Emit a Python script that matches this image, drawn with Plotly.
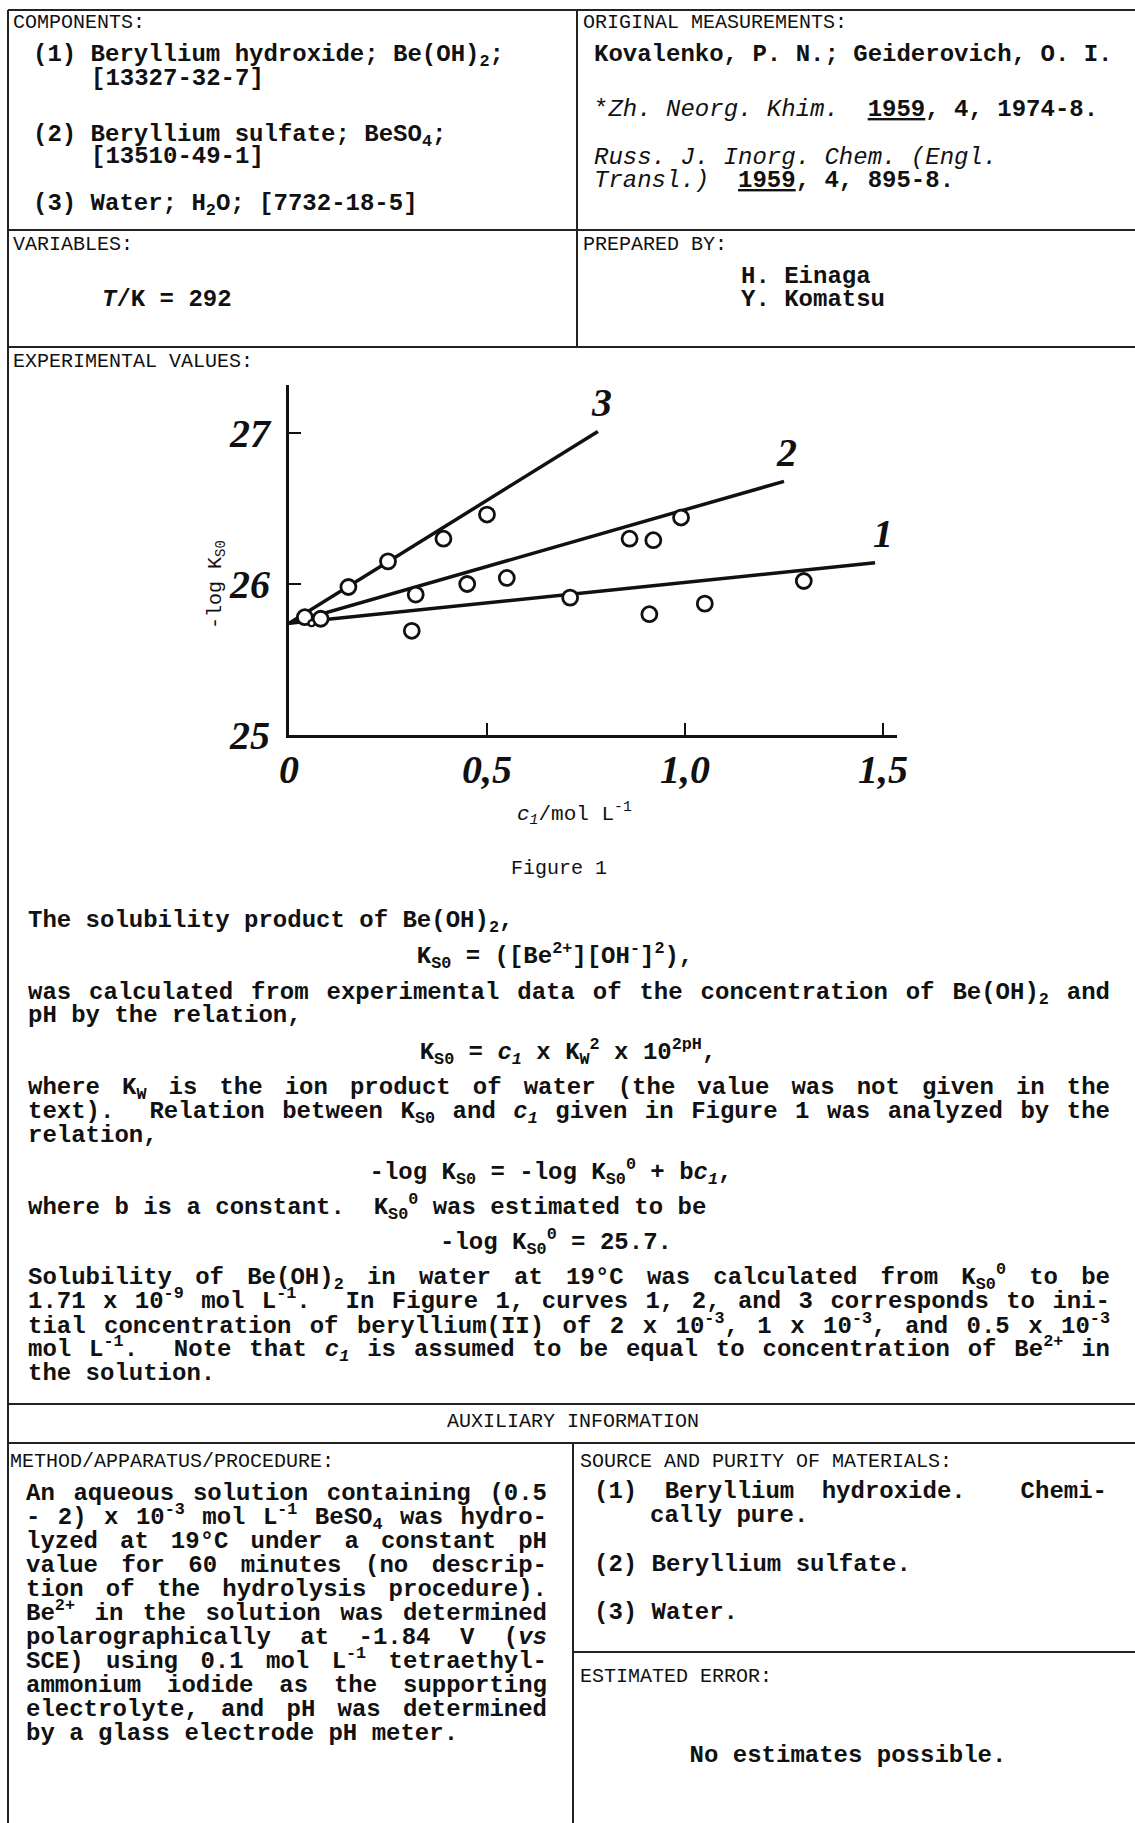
import re
import plotly.graph_objects as go

W, H = 1135, 1823
MONO = "Liberation Mono, Courier New, monospace"
SERIF = "Liberation Serif, Times New Roman, serif"
INK = "#111111"

# ---------------- Figure 1: -log Ks0 against c1 ----------------
# curve 1: initial Be(II) 2e-3 mol/L
c1_curve1 = [0.31, 0.71, 0.91, 1.05, 1.30]
logk_curve1 = [25.69, 25.91, 25.80, 25.87, 26.02]
# curve 2: initial Be(II) 1e-3 mol/L
c1_curve2 = [0.32, 0.45, 0.55, 0.86, 0.92, 0.99]
logk_curve2 = [25.93, 26.00, 26.04, 26.30, 26.29, 26.44]
# curve 3: initial Be(II) 0.5e-3 mol/L
c1_curve3 = [0.04, 0.08, 0.15, 0.25, 0.39, 0.50]
logk_curve3 = [25.78, 25.77, 25.98, 26.15, 26.30, 26.46]
# small point at the common origin of the lines
c1_small = [0.057]
logk_small = [25.74]

# fitted straight lines  -log Ks0 = -log Ks0(0) + b*c1
line1_c1 = [0.0, 1.48]
line1_logk = [25.74, 26.14]
line2_c1 = [0.0, 1.25]
line2_logk = [25.74, 26.68]
line3_c1 = [0.0, 0.78]
line3_logk = [25.74, 27.01]
curve_names = ["1", "2", "3"]

x_tick_vals = [0, 0.5, 1.0, 1.5]
x_tick_text = ["0", "0,5", "1,0", "1,5"]
y_tick_vals = [25, 26, 27]
y_tick_text = ["25", "26", "27"]

fig = go.Figure()

# fitted lines
for xs, ys in [(line1_c1, line1_logk), (line2_c1, line2_logk), (line3_c1, line3_logk)]:
    fig.add_trace(go.Scatter(x=xs, y=ys, mode="lines",
                             line=dict(color=INK, width=3.5),
                             hoverinfo="skip", showlegend=False))

# measured points (white-filled open circles)
for xs, ys in [(c1_curve1, logk_curve1), (c1_curve2, logk_curve2), (c1_curve3, logk_curve3)]:
    fig.add_trace(go.Scatter(x=xs, y=ys, mode="markers",
                             marker=dict(symbol="circle", size=15, color="white",
                                         line=dict(color=INK, width=2.8)),
                             hoverinfo="skip", showlegend=False))
fig.add_trace(go.Scatter(x=c1_small, y=logk_small, mode="markers",
                         marker=dict(symbol="circle", size=6, color="white",
                                     line=dict(color=INK, width=2.2)),
                         hoverinfo="skip", showlegend=False))

# curve numbers just above the end of each line
for name, xs, ys, dx in [("1", line1_c1, line1_logk, 8), ("2", line2_c1, line2_logk, 2),
                         ("3", line3_c1, line3_logk, 4)]:
    fig.add_annotation(x=xs[-1], y=ys[-1], xref="x", yref="y", text=name,
                       showarrow=False, xshift=dx, yshift=29,
                       font=dict(family=SERIF, size=40, color=INK, style="italic",
                                 weight="bold"))


# ---------------- page text (overlay axes in pixel units) ----------------
def units(s):
    """Visible width of an html snippet in monospace character cells."""
    w = 0.0
    depth = 0
    for tok in re.split(r"(<[^>]+>)", s):
        if not tok:
            continue
        if tok.startswith("<"):
            name = tok.strip("</>").split()[0].lower()
            if name in ("sub", "sup"):
                depth += -1 if tok.startswith("</") else 1
            continue
        w += len(tok) * (0.7 if depth else 1.0)
    return w


groups = {}


def put(x, y, text, style="body", pos="middle right"):
    groups.setdefault((style, pos), []).append((x, y, text))


def justify(line, x0, x1, y, size=24, style="body"):
    words = line.split(" ")
    widths = [units(w) * 0.6 * size for w in words]
    gap = (x1 - x0 - sum(widths)) / (len(words) - 1)
    x = x0
    for w, wd in zip(words, widths):
        if w:
            put(x, y, w, style)
        x += wd + gap


# section headings
put(13, 23, "COMPONENTS:", "head")
put(583, 23, "ORIGINAL MEASUREMENTS:", "head")
put(13, 245, "VARIABLES:", "head")
put(583, 245, "PREPARED BY:", "head")
put(13, 362, "EXPERIMENTAL VALUES:", "head")
put(573, 1422, "AUXILIARY INFORMATION", "head", "middle center")
put(10, 1462, "METHOD/APPARATUS/PROCEDURE:", "head")
put(580, 1462, "SOURCE AND PURITY OF MATERIALS:", "head")
put(580, 1677, "ESTIMATED ERROR:", "head")
put(559, 869, "Figure 1", "head", "middle center")

# components
put(33, 55, "(1) Beryllium hydroxide; Be(OH)<sub>2</sub>;")
put(91, 79, "[13327-32-7]")
put(33, 135, "(2) Beryllium sulfate; BeSO<sub>4</sub>;")
put(91, 157, "[13510-49-1]")
put(33, 204, "(3) Water; H<sub>2</sub>O; [7732-18-5]")

# original measurements
put(594, 55, "Kovalenko, P. N.; Geiderovich, O. I.")
put(594, 110, "*<i>Zh. Neorg. Khim.</i>  <b><u>1959</u>, 4, 1974-8.</b>", "plain")
put(594, 158, "<i>Russ. J. Inorg. Chem. (Engl.</i>", "plain")
put(594, 181, "<i>Transl.)</i>  <b><u>1959</u>, 4, 895-8.</b>", "plain")

# variables / prepared by
put(102, 300, "<i>T</i>/K = 292")
put(741, 277, "H. Einaga")
put(741, 300, "Y. Komatsu")

# experimental values text
XL, XR = 28, 1110
put(XL, 921, "The solubility product of Be(OH)<sub>2</sub>,")
put(555, 957, "K<sub>S0</sub> = ([Be<sup>2+</sup>][OH<sup>-</sup>]<sup>2</sup>),", "body", "middle center")
justify("was calculated from experimental data of the concentration of Be(OH)<sub>2</sub> and", XL, XR, 993)
put(XL, 1016, "pH by the relation,")
put(568, 1053, "K<sub>S0</sub> = <i>c<sub>1</sub></i> x K<sub>W</sub><sup>2</sup> x 10<sup>2pH</sup>,", "body", "middle center")
justify("where K<sub>W</sub> is the ion product of water (the value was not given in the", XL, XR, 1088)
justify("text).  Relation between K<sub>S0</sub> and <i>c<sub>1</sub></i> given in Figure 1 was analyzed by the", XL, XR, 1112)
put(XL, 1136, "relation,")
put(551, 1173, "-log K<sub>S0</sub> = -log K<sub>S0</sub><sup>0</sup> + b<i>c<sub>1</sub></i>,", "body", "middle center")
put(XL, 1208, "where b is a constant.  K<sub>S0</sub><sup>0</sup> was estimated to be")
put(556, 1243, "-log K<sub>S0</sub><sup>0</sup> = 25.7.", "body", "middle center")
justify("Solubility of Be(OH)<sub>2</sub> in water at 19°C was calculated from K<sub>S0</sub><sup>0</sup> to be", XL, XR, 1278)
justify("1.71 x 10<sup>-9</sup> mol L<sup>-1</sup>.  In Figure 1, curves 1, 2, and 3 corresponds to ini-", XL, XR, 1302)
justify("tial concentration of beryllium(II) of 2 x 10<sup>-3</sup>, 1 x 10<sup>-3</sup>, and 0.5 x 10<sup>-3</sup>", XL, XR, 1327)
justify("mol L<sup>-1</sup>.  Note that <i>c<sub>1</sub></i> is assumed to be equal to concentration of Be<sup>2+</sup> in", XL, XR, 1350)
put(XL, 1374, "the solution.")

# method / apparatus / procedure
ML, MR = 26, 547
method_lines = [
    "An aqueous solution containing (0.5",
    "- 2) x 10<sup>-3</sup> mol L<sup>-1</sup> BeSO<sub>4</sub> was hydro-",
    "lyzed at 19°C under a constant pH",
    "value for 60 minutes (no descrip-",
    "tion of the hydrolysis procedure).",
    "Be<sup>2+</sup> in the solution was determined",
    "polarographically at -1.84 V (<i>vs</i>",
    "SCE) using 0.1 mol L<sup>-1</sup> tetraethyl-",
    "ammonium iodide as the supporting",
    "electrolyte, and pH was determined",
]
for i, ln in enumerate(method_lines):
    justify(ln, ML, MR, 1494 + i * 24.0)
put(ML, 1494 + 10 * 24.0, "by a glass electrode pH meter.")

# source and purity
justify("(1) Beryllium hydroxide.  Chemi-", 594, 1107, 1492)
put(650, 1516, "cally pure.")
put(594, 1565, "(2) Beryllium sulfate.")
put(594, 1613, "(3) Water.")

# estimated error
put(848, 1756, "No estimates possible.", "body", "middle center")

styles = {
    "head": dict(size=20, bold=False),
    "body": dict(size=24, bold=True),
    "plain": dict(size=24, bold=False),
}
for (style, pos), items in groups.items():
    st = styles[style]
    texts = [("<b>%s</b>" % t) if st["bold"] else t for _, _, t in items]
    fig.add_trace(go.Scatter(
        x=[it[0] for it in items], y=[it[1] for it in items], text=texts,
        mode="text", textposition=pos, xaxis="x2", yaxis="y2",
        textfont=dict(family=MONO, size=st["size"], color=INK),
        hoverinfo="skip", showlegend=False, cliponaxis=False))

# axis titles of Figure 1
fig.add_annotation(x=216 / W, y=1 - 585 / H, xref="paper", yref="paper",
                   xanchor="center", yanchor="middle",
                   text="-log K<sub>S0</sub>", textangle=-90, showarrow=False,
                   font=dict(family=MONO, size=20, color=INK))
fig.add_annotation(x=574 / W, y=1 - 813 / H, xref="paper", yref="paper",
                   xanchor="center", yanchor="middle",
                   text="<i>c<sub>1</sub></i>/mol L<sup>-1</sup>", showarrow=False,
                   font=dict(family=MONO, size=21, color=INK))

# ---------------- table rules ----------------
def rule(x0, y0, x1, y1, w=2):
    fig.add_shape(type="line", xref="paper", yref="paper",
                  x0=x0 / W, x1=x1 / W, y0=1 - y0 / H, y1=1 - y1 / H,
                  line=dict(color="#222222", width=w))


rule(8, 10, W, 10)
rule(8, 10, 8, H)
rule(577, 10, 577, 347)
rule(8, 230, W, 230)
rule(8, 347, W, 347)
rule(8, 1404, W, 1404)
rule(8, 1443, W, 1443)
rule(573, 1443, 573, H)
rule(573, 1652, W, 1652)

# ---------------- layout ----------------
fig.update_layout(
    width=W, height=H, autosize=False,
    margin=dict(l=0, r=0, t=0, b=0, pad=0, autoexpand=False),
    paper_bgcolor="white", plot_bgcolor="rgba(0,0,0,0)",
    showlegend=False,
    xaxis=dict(domain=[289 / W, 897 / W], range=[0, 608 / 396], anchor="y",
               showline=True, linewidth=3, linecolor=INK, mirror=False,
               ticks="inside", ticklen=12, tickwidth=2, tickcolor=INK,
               tickvals=x_tick_vals, ticktext=x_tick_text, ticklabelstandoff=-3,
               tickfont=dict(family=SERIF, size=40, color=INK, style="italic",
                             weight="bold"),
               showgrid=False, zeroline=False, fixedrange=True, automargin=False),
    yaxis=dict(domain=[1 - 735 / H, 1 - 385 / H], range=[25, 25 + 350 / 151], anchor="x",
               showline=True, linewidth=3, linecolor=INK,
               ticks="inside", ticklen=12, tickwidth=2, tickcolor=INK,
               tickvals=y_tick_vals, ticktext=y_tick_text, ticklabelstandoff=8,
               tickfont=dict(family=SERIF, size=40, color=INK, style="italic",
                             weight="bold"),
               showgrid=False, zeroline=False, fixedrange=True, automargin=False),
    xaxis2=dict(domain=[0, 1], range=[0, W], anchor="y2", visible=False,
                fixedrange=True, automargin=False),
    yaxis2=dict(domain=[0, 1], range=[H, 0], anchor="x2", visible=False,
                fixedrange=True, automargin=False),
)

# page body without default margins so the figure fills the window exactly
fig.write_html("out.html",
               post_script="document.body.style.margin='0';"
                           "document.body.style.overflow='hidden';")
